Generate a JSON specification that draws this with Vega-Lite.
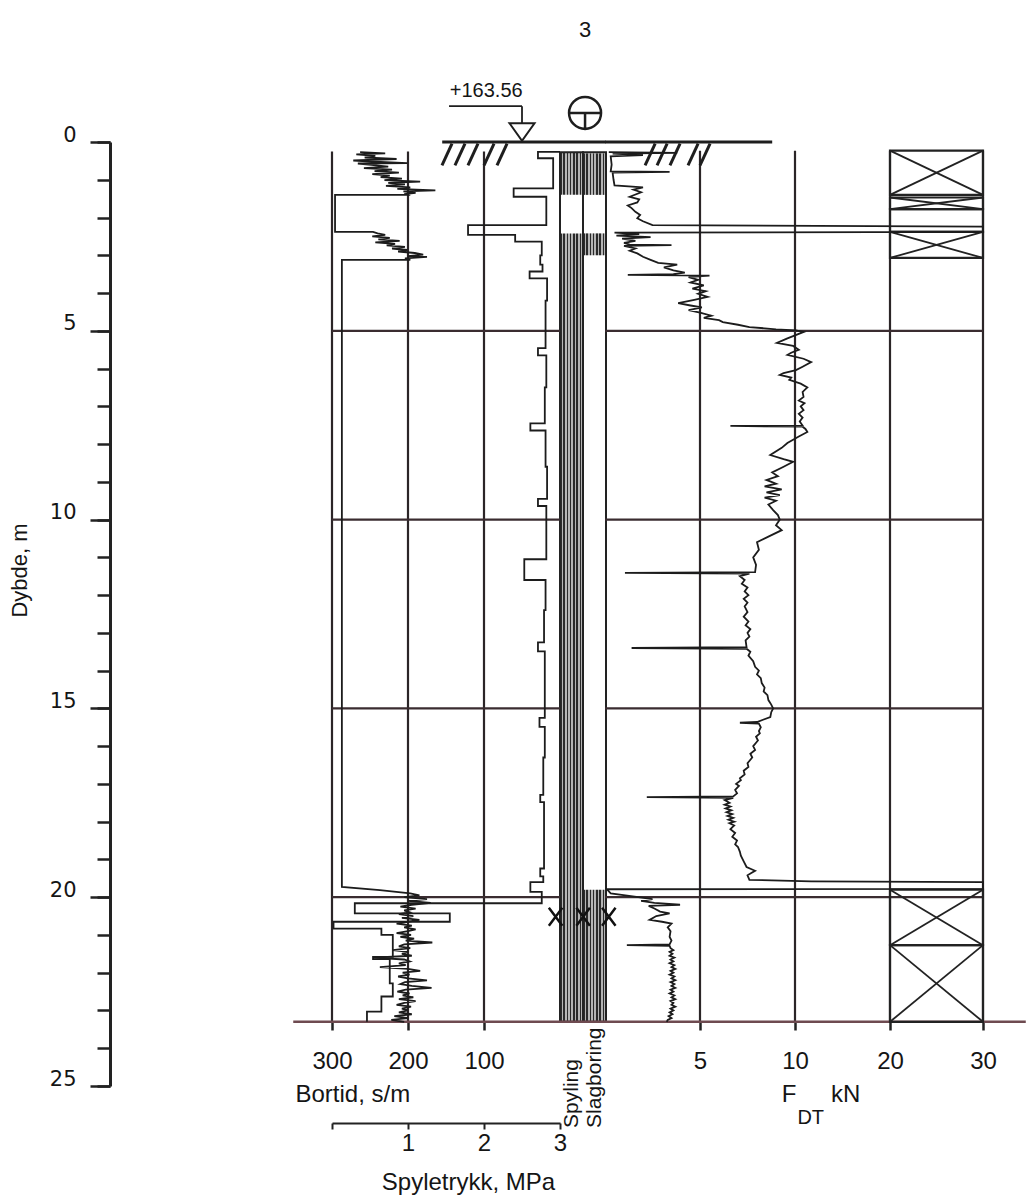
{
"$schema":"https://vega.github.io/schema/vega-lite/v6.json",
"width":1026,"height":1200,"autosize":{"type":"none"},"padding":0,"background":"#ffffff",
"config":{"view":{"stroke":null},"font":"Liberation Sans","axis":{"domainColor":"#222222","tickColor":"#222222","labelColor":"#151515","titleColor":"#151515","labelFont":"Liberation Sans","titleFont":"Liberation Sans","titleFontWeight":"normal","grid":false,"labelFlush":false,"labelOverlap":false}},
"datasets":{
"bortid":[{"d":0.27,"b":263},{"d":0.3,"b":230},{"d":0.33,"b":268},{"d":0.37,"b":243},{"d":0.41,"b":257},{"d":0.45,"b":215},{"d":0.49,"b":272},{"d":0.53,"b":236},{"d":0.56,"b":201},{"d":0.57,"b":266},{"d":0.61,"b":245},{"d":0.65,"b":226},{"d":0.69,"b":258},{"d":0.73,"b":221},{"d":0.77,"b":244},{"d":0.81,"b":212},{"d":0.85,"b":247},{"d":0.89,"b":224},{"d":0.93,"b":236},{"d":0.97,"b":208},{"d":1.01,"b":231},{"d":1.05,"b":184},{"d":1.08,"b":226},{"d":1.12,"b":204},{"d":1.16,"b":229},{"d":1.2,"b":197},{"d":1.24,"b":214},{"d":1.28,"b":164},{"d":1.31,"b":206},{"d":1.35,"b":190},{"d":1.38,"b":205},{"d":1.4,"b":197},{"d":1.4,"b":296},{"d":2.38,"b":296},{"d":2.38,"b":246},{"d":2.42,"b":240},{"d":2.46,"b":230},{"d":2.5,"b":247},{"d":2.54,"b":224},{"d":2.58,"b":239},{"d":2.62,"b":211},{"d":2.66,"b":243},{"d":2.7,"b":217},{"d":2.74,"b":228},{"d":2.78,"b":204},{"d":2.82,"b":221},{"d":2.86,"b":201},{"d":2.9,"b":213},{"d":2.94,"b":191},{"d":2.98,"b":180},{"d":3.02,"b":200},{"d":3.04,"b":175},{"d":3.08,"b":204},{"d":3.12,"b":197},{"d":3.12,"b":287},{"d":19.73,"b":287},{"d":19.81,"b":237},{"d":19.9,"b":197},{"d":19.95,"b":185},{"d":20.0,"b":205},{"d":20.05,"b":175},{"d":20.1,"b":200},{"d":20.15,"b":170},{"d":20.2,"b":195},{"d":20.25,"b":210},{"d":20.3,"b":190},{"d":20.35,"b":205},{"d":20.4,"b":198},{"d":20.45,"b":212},{"d":20.5,"b":193},{"d":20.55,"b":208},{"d":20.6,"b":185},{"d":20.65,"b":200},{"d":20.7,"b":215},{"d":20.75,"b":195},{"d":20.8,"b":205},{"d":20.85,"b":190},{"d":20.9,"b":200},{"d":20.95,"b":215},{"d":21.0,"b":196},{"d":21.05,"b":210},{"d":21.1,"b":192},{"d":21.15,"b":203},{"d":21.2,"b":168},{"d":21.25,"b":205},{"d":21.3,"b":212},{"d":21.35,"b":197},{"d":21.4,"b":220},{"d":21.45,"b":200},{"d":21.5,"b":208},{"d":21.55,"b":195},{"d":21.6,"b":246},{"d":21.65,"b":205},{"d":21.7,"b":198},{"d":21.75,"b":212},{"d":21.8,"b":203},{"d":21.85,"b":237},{"d":21.9,"b":200},{"d":21.95,"b":184},{"d":22.0,"b":207},{"d":22.05,"b":198},{"d":22.1,"b":213},{"d":22.15,"b":200},{"d":22.2,"b":175},{"d":22.25,"b":204},{"d":22.3,"b":210},{"d":22.35,"b":195},{"d":22.4,"b":169},{"d":22.45,"b":203},{"d":22.5,"b":214},{"d":22.55,"b":198},{"d":22.6,"b":207},{"d":22.65,"b":193},{"d":22.7,"b":212},{"d":22.75,"b":190},{"d":22.8,"b":205},{"d":22.85,"b":215},{"d":22.9,"b":196},{"d":22.95,"b":208},{"d":23.0,"b":200},{"d":23.05,"b":212},{"d":23.1,"b":195},{"d":23.15,"b":218},{"d":23.2,"b":200},{"d":23.25,"b":222},{"d":23.3,"b":205}],
"spy":[{"d":0.26,"p":3.0},{"d":0.26,"p":2.71},{"d":0.43,"p":2.71},{"d":0.43,"p":2.91},{"d":1.23,"p":2.91},{"d":1.23,"p":2.39},{"d":1.45,"p":2.39},{"d":1.45,"p":2.82},{"d":2.2,"p":2.82},{"d":2.2,"p":1.79},{"d":2.46,"p":1.79},{"d":2.46,"p":2.41},{"d":2.64,"p":2.41},{"d":2.64,"p":2.76},{"d":3.0,"p":2.76},{"d":3.0,"p":2.74},{"d":3.25,"p":2.74},{"d":3.25,"p":2.77},{"d":3.43,"p":2.77},{"d":3.43,"p":2.6},{"d":3.61,"p":2.6},{"d":3.61,"p":2.83},{"d":4.2,"p":2.83},{"d":4.2,"p":2.81},{"d":5.46,"p":2.81},{"d":5.46,"p":2.71},{"d":5.65,"p":2.71},{"d":5.65,"p":2.82},{"d":6.5,"p":2.82},{"d":6.5,"p":2.8},{"d":7.45,"p":2.8},{"d":7.45,"p":2.61},{"d":7.64,"p":2.61},{"d":7.64,"p":2.81},{"d":8.6,"p":2.81},{"d":8.6,"p":2.83},{"d":9.45,"p":2.83},{"d":9.45,"p":2.71},{"d":9.64,"p":2.71},{"d":9.64,"p":2.82},{"d":11.05,"p":2.82},{"d":11.05,"p":2.53},{"d":11.6,"p":2.53},{"d":11.6,"p":2.81},{"d":12.4,"p":2.81},{"d":12.4,"p":2.79},{"d":13.25,"p":2.79},{"d":13.25,"p":2.71},{"d":13.49,"p":2.71},{"d":13.49,"p":2.8},{"d":15.25,"p":2.8},{"d":15.25,"p":2.73},{"d":15.49,"p":2.73},{"d":15.49,"p":2.8},{"d":16.3,"p":2.8},{"d":16.3,"p":2.78},{"d":17.29,"p":2.78},{"d":17.29,"p":2.74},{"d":17.48,"p":2.74},{"d":17.48,"p":2.79},{"d":19.24,"p":2.79},{"d":19.24,"p":2.74},{"d":19.45,"p":2.74},{"d":19.45,"p":2.78},{"d":19.6,"p":2.78},{"d":19.6,"p":2.61},{"d":19.86,"p":2.61},{"d":19.86,"p":2.76},{"d":20.16,"p":2.76},{"d":20.16,"p":0.3},{"d":20.43,"p":0.3},{"d":20.43,"p":1.55},{"d":20.65,"p":1.55},{"d":20.65,"p":0.02},{"d":20.83,"p":0.02},{"d":20.83,"p":0.65},{"d":21.0,"p":0.65},{"d":21.0,"p":0.8},{"d":21.58,"p":0.8},{"d":21.58,"p":0.54},{"d":21.64,"p":0.54},{"d":21.64,"p":0.76},{"d":22.28,"p":0.76},{"d":22.28,"p":0.8},{"d":22.63,"p":0.8},{"d":22.63,"p":0.65},{"d":23.03,"p":0.65},{"d":23.03,"p":0.46},{"d":23.3,"p":0.46}],
"fdt":[{"d":0.27,"f":0.2},{"d":0.29,"f":3.8},{"d":0.31,"f":0.4},{"d":0.35,"f":2.0},{"d":0.38,"f":0.3},{"d":0.6,"f":0.35},{"d":0.78,"f":0.3},{"d":0.79,"f":3.4},{"d":0.81,"f":0.4},{"d":1.0,"f":0.45},{"d":1.15,"f":0.5},{"d":1.2,"f":2.0},{"d":1.26,"f":1.5},{"d":1.33,"f":1.9},{"d":1.45,"f":1.3},{"d":1.52,"f":1.8},{"d":1.6,"f":1.7},{"d":1.68,"f":1.2},{"d":1.75,"f":1.4},{"d":1.85,"f":1.6},{"d":1.93,"f":1.85},{"d":2.02,"f":1.7},{"d":2.1,"f":2.0},{"d":2.2,"f":2.5},{"d":2.24,"f":30},{"d":2.38,"f":30},{"d":2.4,"f":0.5},{"d":2.44,"f":1.8},{"d":2.48,"f":0.6},{"d":2.52,"f":2.4},{"d":2.56,"f":0.9},{"d":2.62,"f":1.6},{"d":2.67,"f":1.0},{"d":2.72,"f":1.3},{"d":2.73,"f":3.5},{"d":2.75,"f":1.0},{"d":2.82,"f":1.6},{"d":2.88,"f":1.3},{"d":2.95,"f":1.7},{"d":3.04,"f":2.0},{"d":3.12,"f":2.4},{"d":3.2,"f":2.8},{"d":3.25,"f":3.8},{"d":3.32,"f":3.1},{"d":3.4,"f":3.6},{"d":3.46,"f":4.2},{"d":3.5,"f":3.6},{"d":3.52,"f":1.2},{"d":3.54,"f":5.5},{"d":3.58,"f":4.4},{"d":3.65,"f":4.9},{"d":3.72,"f":4.5},{"d":3.8,"f":5.2},{"d":3.88,"f":4.6},{"d":3.95,"f":5.3},{"d":4.02,"f":4.9},{"d":4.1,"f":5.4},{"d":4.18,"f":4.7},{"d":4.27,"f":3.85},{"d":4.33,"f":4.5},{"d":4.38,"f":5.1},{"d":4.45,"f":4.4},{"d":4.52,"f":5.0},{"d":4.6,"f":5.6},{"d":4.66,"f":5.2},{"d":4.72,"f":6.0},{"d":4.77,"f":6.2},{"d":4.84,"f":7.0},{"d":4.9,"f":7.6},{"d":4.96,"f":9.0},{"d":4.99,"f":10.1},{"d":5.03,"f":10.9},{"d":5.1,"f":10.2},{"d":5.2,"f":9.6},{"d":5.32,"f":9.05},{"d":5.4,"f":9.9},{"d":5.5,"f":10.4},{"d":5.58,"f":9.8},{"d":5.64,"f":9.6},{"d":5.74,"f":10.9},{"d":5.83,"f":11.7},{"d":5.95,"f":10.8},{"d":6.04,"f":10.1},{"d":6.12,"f":9.4},{"d":6.17,"f":9.2},{"d":6.24,"f":9.8},{"d":6.3,"f":9.7},{"d":6.4,"f":10.6},{"d":6.5,"f":11.3},{"d":6.62,"f":10.8},{"d":6.75,"f":10.9},{"d":6.85,"f":10.4},{"d":6.92,"f":11.0},{"d":7.0,"f":10.6},{"d":7.1,"f":10.9},{"d":7.2,"f":10.4},{"d":7.3,"f":10.8},{"d":7.4,"f":10.5},{"d":7.51,"f":10.8},{"d":7.52,"f":6.6},{"d":7.54,"f":10.8},{"d":7.6,"f":11.1},{"d":7.68,"f":11.3},{"d":7.8,"f":10.4},{"d":7.97,"f":9.6},{"d":8.1,"f":9.3},{"d":8.29,"f":8.7},{"d":8.4,"f":9.4},{"d":8.47,"f":9.9},{"d":8.6,"f":9.4},{"d":8.75,"f":8.8},{"d":8.85,"f":9.1},{"d":8.95,"f":8.5},{"d":9.05,"f":9.0},{"d":9.12,"f":8.4},{"d":9.2,"f":9.3},{"d":9.28,"f":8.5},{"d":9.35,"f":9.2},{"d":9.42,"f":8.4},{"d":9.5,"f":9.0},{"d":9.6,"f":8.6},{"d":9.75,"f":8.85},{"d":9.88,"f":9.1},{"d":10.0,"f":9.2},{"d":10.15,"f":9.0},{"d":10.28,"f":9.3},{"d":10.45,"f":8.6},{"d":10.6,"f":8.0},{"d":10.8,"f":8.1},{"d":11.0,"f":7.8},{"d":11.2,"f":7.95},{"d":11.39,"f":7.9},{"d":11.41,"f":1.05},{"d":11.43,"f":7.6},{"d":11.5,"f":7.1},{"d":11.6,"f":7.35},{"d":11.7,"f":7.2},{"d":11.8,"f":7.5},{"d":11.9,"f":7.35},{"d":12.0,"f":7.55},{"d":12.1,"f":7.3},{"d":12.2,"f":7.5},{"d":12.3,"f":7.35},{"d":12.45,"f":7.5},{"d":12.57,"f":7.3},{"d":12.7,"f":7.55},{"d":12.8,"f":7.4},{"d":12.9,"f":7.65},{"d":13.0,"f":7.5},{"d":13.1,"f":7.6},{"d":13.2,"f":7.4},{"d":13.38,"f":7.45},{"d":13.4,"f":1.4},{"d":13.42,"f":7.45},{"d":13.5,"f":7.65},{"d":13.6,"f":7.55},{"d":13.75,"f":7.8},{"d":13.9,"f":7.9},{"d":14.0,"f":8.1},{"d":14.1,"f":8.0},{"d":14.2,"f":8.2},{"d":14.33,"f":8.25},{"d":14.45,"f":8.4},{"d":14.55,"f":8.35},{"d":14.65,"f":8.55},{"d":14.78,"f":8.6},{"d":14.9,"f":8.75},{"d":15.0,"f":8.85},{"d":15.1,"f":8.75},{"d":15.23,"f":8.7},{"d":15.36,"f":8.0},{"d":15.38,"f":7.1},{"d":15.4,"f":8.1},{"d":15.5,"f":8.2},{"d":15.6,"f":8.1},{"d":15.66,"f":8.15},{"d":15.75,"f":7.95},{"d":15.85,"f":8.05},{"d":16.0,"f":7.8},{"d":16.1,"f":7.9},{"d":16.2,"f":7.65},{"d":16.3,"f":7.75},{"d":16.45,"f":7.5},{"d":16.55,"f":7.55},{"d":16.65,"f":7.3},{"d":16.75,"f":7.35},{"d":16.85,"f":7.1},{"d":16.9,"f":7.15},{"d":17.0,"f":6.9},{"d":17.05,"f":7.05},{"d":17.16,"f":6.85},{"d":17.25,"f":6.95},{"d":17.33,"f":6.75},{"d":17.35,"f":2.2},{"d":17.37,"f":6.75},{"d":17.43,"f":6.3},{"d":17.5,"f":6.55},{"d":17.55,"f":6.3},{"d":17.6,"f":6.6},{"d":17.65,"f":6.35},{"d":17.7,"f":6.65},{"d":17.75,"f":6.4},{"d":17.8,"f":6.7},{"d":17.85,"f":6.45},{"d":17.9,"f":6.75},{"d":17.95,"f":6.5},{"d":18.0,"f":6.8},{"d":18.04,"f":6.55},{"d":18.1,"f":6.8},{"d":18.2,"f":6.6},{"d":18.3,"f":6.85},{"d":18.4,"f":6.7},{"d":18.5,"f":6.95},{"d":18.6,"f":6.85},{"d":18.67,"f":7.0},{"d":18.8,"f":7.1},{"d":18.9,"f":7.15},{"d":19.05,"f":7.3},{"d":19.2,"f":7.45},{"d":19.3,"f":7.9},{"d":19.36,"f":7.7},{"d":19.42,"f":7.5},{"d":19.54,"f":7.6},{"d":19.58,"f":11.7},{"d":19.6,"f":30},{"d":19.78,"f":30},{"d":19.79,"f":0.1},{"d":19.9,"f":0.3},{"d":20.0,"f":1.75},{"d":20.05,"f":2.5},{"d":20.1,"f":1.9},{"d":20.15,"f":2.6},{"d":20.2,"f":3.95},{"d":20.23,"f":2.3},{"d":20.3,"f":2.6},{"d":20.38,"f":2.9},{"d":20.43,"f":3.4},{"d":20.5,"f":2.7},{"d":20.6,"f":2.35},{"d":20.65,"f":3.0},{"d":20.7,"f":3.5},{"d":20.8,"f":3.3},{"d":20.9,"f":3.45},{"d":21.05,"f":3.4},{"d":21.15,"f":3.5},{"d":21.25,"f":3.4},{"d":21.27,"f":1.15},{"d":21.29,"f":3.4},{"d":21.35,"f":3.45},{"d":21.4,"f":3.6},{"d":21.45,"f":3.4},{"d":21.5,"f":3.55},{"d":21.55,"f":3.4},{"d":21.6,"f":3.65},{"d":21.65,"f":3.45},{"d":21.7,"f":3.6},{"d":21.75,"f":3.4},{"d":21.8,"f":3.65},{"d":21.85,"f":3.5},{"d":21.9,"f":3.7},{"d":21.95,"f":3.45},{"d":22.0,"f":3.6},{"d":22.05,"f":3.4},{"d":22.1,"f":3.65},{"d":22.15,"f":3.5},{"d":22.2,"f":3.7},{"d":22.25,"f":3.45},{"d":22.3,"f":3.65},{"d":22.35,"f":3.5},{"d":22.4,"f":3.7},{"d":22.45,"f":3.45},{"d":22.5,"f":3.6},{"d":22.55,"f":3.4},{"d":22.6,"f":3.65},{"d":22.65,"f":3.5},{"d":22.7,"f":3.7},{"d":22.75,"f":3.45},{"d":22.8,"f":3.6},{"d":22.85,"f":3.5},{"d":22.9,"f":3.7},{"d":22.95,"f":3.45},{"d":23.0,"f":3.6},{"d":23.05,"f":3.4},{"d":23.1,"f":3.55},{"d":23.15,"f":3.35},{"d":23.2,"f":3.5},{"d":23.25,"f":3.3},{"d":23.3,"f":3.25}],
"cols":[{"col":"Spyling","d":0.27,"d2":23.3},{"col":"Slagboring","d":0.27,"d2":23.3}],
"hatch":[{"col":"Spyling","d":0.27,"d2":1.4},{"col":"Spyling","d":2.42,"d2":23.3},{"col":"Slagboring","d":0.3,"d2":1.4},{"col":"Slagboring","d":2.42,"d2":3.0},{"col":"Slagboring","d":19.8,"d2":23.3}],
"boxes":[{"d":0.23,"d2":1.4,"cross":true},{"d":1.47,"d2":1.78,"cross":true},{"d":1.78,"d2":2.38,"cross":false},{"d":2.38,"d2":3.07,"cross":true},{"d":19.8,"d2":21.27,"cross":true},{"d":21.27,"d2":23.3,"cross":true}],
"gridB":[{"b":300},{"b":200},{"b":100}],
"gridF":[{"f":5},{"f":10},{"f":20},{"f":30}],
"gridH":[{"d":5},{"d":10},{"d":15},{"d":20}],
"slashB":[{"b":155.3,"b2":142.1},{"b":138.2,"b2":125.0},{"b":121.1,"b2":107.9},{"b":100.0,"b2":86.8},{"b":82.9,"b2":69.7}],
"slashF":[{"f":2.11,"f2":2.64},{"f":2.74,"f2":3.27},{"f":3.42,"f2":3.95},{"f":4.37,"f2":4.9},{"f":5.0,"f2":5.53}],
"xmarks":[{"f":-2.6},{"f":-1.15},{"f":0.2}],
"one":[{}]
},
"layer":[
{"data":{"name":"hatch"},"mark":{"type":"rect","fill":{"gradient":"linear","x1":0,"y1":0,"x2":1,"y2":0,"stops":[{"offset":0,"color":"#2a2a2a"},{"offset":0.07,"color":"#2a2a2a"},{"offset":0.07,"color":"#b4b4b4"},{"offset":0.143,"color":"#b4b4b4"},{"offset":0.143,"color":"#2a2a2a"},{"offset":0.213,"color":"#2a2a2a"},{"offset":0.213,"color":"#b4b4b4"},{"offset":0.286,"color":"#b4b4b4"},{"offset":0.286,"color":"#2a2a2a"},{"offset":0.356,"color":"#2a2a2a"},{"offset":0.356,"color":"#b4b4b4"},{"offset":0.429,"color":"#b4b4b4"},{"offset":0.429,"color":"#2a2a2a"},{"offset":0.499,"color":"#2a2a2a"},{"offset":0.499,"color":"#b4b4b4"},{"offset":0.571,"color":"#b4b4b4"},{"offset":0.571,"color":"#2a2a2a"},{"offset":0.641,"color":"#2a2a2a"},{"offset":0.641,"color":"#b4b4b4"},{"offset":0.714,"color":"#b4b4b4"},{"offset":0.714,"color":"#2a2a2a"},{"offset":0.784,"color":"#2a2a2a"},{"offset":0.784,"color":"#b4b4b4"},{"offset":0.857,"color":"#b4b4b4"},{"offset":0.857,"color":"#2a2a2a"},{"offset":0.927,"color":"#2a2a2a"},{"offset":0.927,"color":"#b4b4b4"},{"offset":1,"color":"#b4b4b4"}]}},
 "encoding":{"x":{"field":"col","type":"nominal","scale":{"type":"band","domain":["Spyling","Slagboring"],"range":[560,606],"paddingInner":0,"paddingOuter":0},"axis":null},"y":{"field":"d","type":"quantitative","scale":{"domain":[0,25],"range":[142,1086],"nice":false,"zero":false},"axis":null},"y2":{"field":"d2"}}},
{"data":{"name":"cols"},"mark":{"type":"rect","filled":false,"stroke":"#222222","strokeWidth":2},
 "encoding":{"x":{"field":"col","type":"nominal","scale":{"type":"band","domain":["Spyling","Slagboring"],"range":[560,606],"paddingInner":0,"paddingOuter":0},"axis":null},"y":{"field":"d","type":"quantitative","scale":{"domain":[0,25],"range":[142,1086],"nice":false,"zero":false},"axis":null},"y2":{"field":"d2"}}},
{"data":{"name":"gridB"},"mark":{"type":"rule","stroke":"#2b2527","strokeWidth":2.2},
 "encoding":{"x":{"field":"b","type":"quantitative","scale":{"domain":[300,0],"range":[332,560],"nice":false,"zero":false},"axis":null},"y":{"datum":0.25,"type":"quantitative","scale":{"domain":[0,25],"range":[142,1086],"nice":false,"zero":false},"axis":null},"y2":{"datum":23.3}}},
{"data":{"name":"gridF"},"mark":{"type":"rule","stroke":"#2b2527","strokeWidth":2.2},
 "encoding":{"x":{"field":"f","type":"quantitative","scale":{"domain":[0,10,20,30],"range":[605,795,890,983],"nice":false,"zero":false},"axis":null},"y":{"datum":0.23,"type":"quantitative","scale":{"domain":[0,25],"range":[142,1086],"nice":false,"zero":false},"axis":null},"y2":{"datum":23.3}}},
{"data":{"name":"gridH"},"mark":{"type":"rule","stroke":"#3a2c30","strokeWidth":2.2},
 "encoding":{"x":{"datum":300,"type":"quantitative","scale":{"domain":[300,0],"range":[332,560],"nice":false,"zero":false},"axis":null},"x2":{"datum":0},"y":{"field":"d","type":"quantitative","scale":{"domain":[0,25],"range":[142,1086],"nice":false,"zero":false},"axis":{"orient":"left","offset":-110,"values":[0,1,2,3,4,5,6,7,8,9,10,11,12,13,14,15,16,17,18,19,20,21,22,23,24,25],"labels":false,"domain":false,"tickSize":13,"tickWidth":2.5,"title":null}}}},
{"data":{"name":"gridH"},"mark":{"type":"rule","stroke":"#3a2c30","strokeWidth":2.2},
 "encoding":{"x":{"datum":0,"type":"quantitative","scale":{"domain":[0,10,20,30],"range":[605,795,890,983],"nice":false,"zero":false},"axis":null},"x2":{"datum":30},"y":{"field":"d","type":"quantitative","scale":{"domain":[0,25],"range":[142,1086],"nice":false,"zero":false},"axis":null}}},
{"data":{"name":"one"},"mark":{"type":"rule","stroke":"#6e4a50","strokeWidth":2.5},
 "encoding":{"x":{"datum":351,"type":"quantitative","scale":{"domain":[300,0],"range":[332,560],"nice":false,"zero":false},"axis":null},"x2":{"datum":-60},"y":{"datum":23.3,"type":"quantitative","scale":{"domain":[0,25],"range":[142,1086],"nice":false,"zero":false},"axis":null}}},
{"data":{"name":"one"},"mark":{"type":"rule","stroke":"#6e4a50","strokeWidth":2.5},
 "encoding":{"x":{"datum":0,"type":"quantitative","scale":{"domain":[0,10,20,30],"range":[605,795,890,983],"nice":false,"zero":false},"axis":null},"x2":{"datum":34.6},"y":{"datum":23.3,"type":"quantitative","scale":{"domain":[0,25],"range":[142,1086],"nice":false,"zero":false},"axis":null}}},
{"data":{"name":"one"},"mark":{"type":"rule","stroke":"#1e1e1e","strokeWidth":3},
 "encoding":{"x":{"datum":155,"type":"quantitative","scale":{"domain":[300,0],"range":[332,560],"nice":false,"zero":false},"axis":null},"x2":{"datum":-60},"y":{"datum":0,"type":"quantitative","scale":{"domain":[0,25],"range":[142,1086],"nice":false,"zero":false},"axis":null}}},
{"data":{"name":"one"},"mark":{"type":"rule","stroke":"#1e1e1e","strokeWidth":3},
 "encoding":{"x":{"datum":0,"type":"quantitative","scale":{"domain":[0,10,20,30],"range":[605,795,890,983],"nice":false,"zero":false},"axis":null},"x2":{"datum":8.8},"y":{"datum":0,"type":"quantitative","scale":{"domain":[0,25],"range":[142,1086],"nice":false,"zero":false},"axis":null}}},
{"data":{"name":"slashB"},"mark":{"type":"rule","stroke":"#1e1e1e","strokeWidth":3},
 "encoding":{"x":{"field":"b","type":"quantitative","scale":{"domain":[300,0],"range":[332,560],"nice":false,"zero":false},"axis":null},"x2":{"field":"b2"},"y":{"datum":0.62,"type":"quantitative","scale":{"domain":[0,25],"range":[142,1086],"nice":false,"zero":false},"axis":null},"y2":{"datum":0.04}}},
{"data":{"name":"slashF"},"mark":{"type":"rule","stroke":"#1e1e1e","strokeWidth":3},
 "encoding":{"x":{"field":"f","type":"quantitative","scale":{"domain":[0,10,20,30],"range":[605,795,890,983],"nice":false,"zero":false},"axis":null},"x2":{"field":"f2"},"y":{"datum":0.62,"type":"quantitative","scale":{"domain":[0,25],"range":[142,1086],"nice":false,"zero":false},"axis":null},"y2":{"datum":0.04}}},
{"data":{"name":"boxes"},"mark":{"type":"rect","filled":false,"stroke":"#222222","strokeWidth":2.2},
 "encoding":{"x":{"datum":20,"type":"quantitative","scale":{"domain":[0,10,20,30],"range":[605,795,890,983],"nice":false,"zero":false},"axis":null},"x2":{"datum":30},"y":{"field":"d","type":"quantitative","scale":{"domain":[0,25],"range":[142,1086],"nice":false,"zero":false},"axis":null},"y2":{"field":"d2"}}},
{"data":{"name":"boxes"},"transform":[{"filter":"datum.cross"}],"mark":{"type":"rule","stroke":"#222222","strokeWidth":1.8},
 "encoding":{"x":{"datum":20,"type":"quantitative","scale":{"domain":[0,10,20,30],"range":[605,795,890,983],"nice":false,"zero":false},"axis":null},"x2":{"datum":30},"y":{"field":"d","type":"quantitative","scale":{"domain":[0,25],"range":[142,1086],"nice":false,"zero":false},"axis":null},"y2":{"field":"d2"}}},
{"data":{"name":"boxes"},"transform":[{"filter":"datum.cross"}],"mark":{"type":"rule","stroke":"#222222","strokeWidth":1.8},
 "encoding":{"x":{"datum":30,"type":"quantitative","scale":{"domain":[0,10,20,30],"range":[605,795,890,983],"nice":false,"zero":false},"axis":null},"x2":{"datum":20},"y":{"field":"d","type":"quantitative","scale":{"domain":[0,25],"range":[142,1086],"nice":false,"zero":false},"axis":null},"y2":{"field":"d2"}}},
{"data":{"name":"bortid"},"mark":{"type":"line","stroke":"#1c1c1c","strokeWidth":1.8},
 "encoding":{"x":{"field":"b","type":"quantitative","scale":{"domain":[300,0],"range":[332,560],"nice":false,"zero":false},"axis":{"orient":"bottom","offset":-178,"values":[300,200,100],"domain":false,"tickSize":8,"tickWidth":2.5,"labelFontSize":24,"labelPadding":19,"title":"Bortid, s/m","titleFontSize":24,"titleAlign":"left","titleX":295,"titleY":72,"titleBaseline":"middle"}},
  "y":{"field":"d","type":"quantitative","scale":{"domain":[0,25],"range":[142,1086],"nice":false,"zero":false},"axis":{"orient":"left","offset":-110,"values":[0,5,10,15,20,25],"tickSize":20,"tickWidth":2.5,"domainWidth":3,"labelFont":"DejaVu Sans","labelFontSize":21,"labelPadding":14,"labelOffset":-7,"title":"Dybde, m","titleFontSize":22,"titleX":-91,"titleY":570,"titleAngle":-90,"titleAlign":"center","titleBaseline":"middle"}},
  "order":{"value":null}}},
{"data":{"name":"spy"},"mark":{"type":"line","stroke":"#1c1c1c","strokeWidth":1.8},
 "encoding":{"x":{"field":"p","type":"quantitative","scale":{"domain":[0,3],"range":[332,560],"nice":false,"zero":false},"axis":{"orient":"bottom","offset":-77,"values":[0,1,2,3],"labelExpr":"datum.value == 0 ? '' : datum.label","domain":true,"domainWidth":2,"tickSize":6,"tickWidth":2,"labelFontSize":24,"labelPadding":2,"title":"Spyletrykk, MPa","titleFontSize":24,"titleAlign":"center","titleX":468,"titleY":59,"titleBaseline":"middle"}},
  "y":{"field":"d","type":"quantitative","scale":{"domain":[0,25],"range":[142,1086],"nice":false,"zero":false},"axis":null},
  "order":{"value":null}}},
{"data":{"name":"fdt"},"mark":{"type":"line","stroke":"#1c1c1c","strokeWidth":1.8},
 "encoding":{"x":{"field":"f","type":"quantitative","scale":{"domain":[0,10,20,30],"range":[605,795,890,983],"nice":false,"zero":false},"axis":{"orient":"bottom","offset":-178,"values":[5,10,20,30],"domain":false,"tickSize":8,"tickWidth":2.5,"labelFontSize":24,"labelPadding":19,"title":null}},
  "y":{"field":"d","type":"quantitative","scale":{"domain":[0,25],"range":[142,1086],"nice":false,"zero":false},"axis":null},
  "order":{"value":null}}},
{"data":{"name":"xmarks"},"mark":{"type":"point","shape":"M-0.75,-1L0.75,1M-0.75,1L0.75,-1","size":324,"filled":false,"stroke":"#111111","strokeWidth":2.5,"opacity":1},
 "encoding":{"x":{"field":"f","type":"quantitative","scale":{"domain":[0,10,20,30],"range":[605,795,890,983],"nice":false,"zero":false},"axis":null},"y":{"datum":20.52,"type":"quantitative","scale":{"domain":[0,25],"range":[142,1086],"nice":false,"zero":false},"axis":null}}},
{"data":{"name":"one"},"mark":{"type":"text","text":"+163.56","fontSize":20,"align":"left","baseline":"middle","color":"#151515"},
 "encoding":{"x":{"datum":145,"type":"quantitative","scale":{"domain":[300,0],"range":[332,560],"nice":false,"zero":false},"axis":null},"y":{"datum":-1.35,"type":"quantitative","scale":{"domain":[0,25],"range":[142,1086],"nice":false,"zero":false},"axis":null}}},
{"data":{"name":"one"},"mark":{"type":"rule","stroke":"#1e1e1e","strokeWidth":1.8},
 "encoding":{"x":{"datum":146,"type":"quantitative","scale":{"domain":[300,0],"range":[332,560],"nice":false,"zero":false},"axis":null},"x2":{"datum":50},"y":{"datum":-0.95,"type":"quantitative","scale":{"domain":[0,25],"range":[142,1086],"nice":false,"zero":false},"axis":null}}},
{"data":{"name":"one"},"mark":{"type":"rule","stroke":"#1e1e1e","strokeWidth":1.8},
 "encoding":{"x":{"datum":50,"type":"quantitative","scale":{"domain":[300,0],"range":[332,560],"nice":false,"zero":false},"axis":null},"y":{"datum":-0.95,"type":"quantitative","scale":{"domain":[0,25],"range":[142,1086],"nice":false,"zero":false},"axis":null},"y2":{"datum":-0.48}}},
{"data":{"name":"one"},"mark":{"type":"point","shape":"M-1,-0.7L1,-0.7L0,0.7Z","size":625,"filled":false,"stroke":"#1e1e1e","strokeWidth":2,"opacity":1},
 "encoding":{"x":{"datum":50,"type":"quantitative","scale":{"domain":[300,0],"range":[332,560],"nice":false,"zero":false},"axis":null},"y":{"datum":-0.265,"type":"quantitative","scale":{"domain":[0,25],"range":[142,1086],"nice":false,"zero":false},"axis":null}}},
{"data":{"name":"one"},"mark":{"type":"point","shape":"M-1,0A1,1 0 1,1 1,0A1,1 0 1,1 -1,0M-1,0L1,0M0,0L0,1","size":1024,"filled":false,"stroke":"#1e1e1e","strokeWidth":2.5,"opacity":1},
 "encoding":{"x":{"datum":-1.05,"type":"quantitative","scale":{"domain":[0,10,20,30],"range":[605,795,890,983],"nice":false,"zero":false},"axis":null},"y":{"datum":-0.77,"type":"quantitative","scale":{"domain":[0,25],"range":[142,1086],"nice":false,"zero":false},"axis":null}}},
{"data":{"name":"one"},"mark":{"type":"text","text":"3","fontSize":22,"align":"center","baseline":"middle","color":"#151515"},
 "encoding":{"x":{"datum":-1.05,"type":"quantitative","scale":{"domain":[0,10,20,30],"range":[605,795,890,983],"nice":false,"zero":false},"axis":null},"y":{"datum":-2.97,"type":"quantitative","scale":{"domain":[0,25],"range":[142,1086],"nice":false,"zero":false},"axis":null}}},
{"data":{"name":"one"},"mark":{"type":"text","text":"Spyling","fontSize":21,"angle":-90,"align":"left","baseline":"middle","color":"#151515"},
 "encoding":{"x":{"datum":"Spyling","type":"nominal","scale":{"type":"band","domain":["Spyling","Slagboring"],"range":[560,606],"paddingInner":0,"paddingOuter":0},"axis":null},"y":{"datum":26.11,"type":"quantitative","scale":{"domain":[0,25],"range":[142,1086],"nice":false,"zero":false},"axis":null}}},
{"data":{"name":"one"},"mark":{"type":"text","text":"Slagboring","fontSize":21,"angle":-90,"align":"left","baseline":"middle","color":"#151515"},
 "encoding":{"x":{"datum":"Slagboring","type":"nominal","scale":{"type":"band","domain":["Spyling","Slagboring"],"range":[560,606],"paddingInner":0,"paddingOuter":0},"axis":null},"y":{"datum":26.11,"type":"quantitative","scale":{"domain":[0,25],"range":[142,1086],"nice":false,"zero":false},"axis":null}}},
{"data":{"name":"one"},"mark":{"type":"text","text":"F","fontSize":24,"align":"left","baseline":"middle","color":"#151515"},
 "encoding":{"x":{"datum":9.3,"type":"quantitative","scale":{"domain":[0,10,20,30],"range":[605,795,890,983],"nice":false,"zero":false},"axis":null},"y":{"datum":25.25,"type":"quantitative","scale":{"domain":[0,25],"range":[142,1086],"nice":false,"zero":false},"axis":null}}},
{"data":{"name":"one"},"mark":{"type":"text","text":"DT","fontSize":20,"align":"left","baseline":"middle","color":"#151515"},
 "encoding":{"x":{"datum":10.25,"type":"quantitative","scale":{"domain":[0,10,20,30],"range":[605,795,890,983],"nice":false,"zero":false},"axis":null},"y":{"datum":25.85,"type":"quantitative","scale":{"domain":[0,25],"range":[142,1086],"nice":false,"zero":false},"axis":null}}},
{"data":{"name":"one"},"mark":{"type":"text","text":"kN","fontSize":24,"align":"left","baseline":"middle","color":"#151515"},
 "encoding":{"x":{"datum":13.8,"type":"quantitative","scale":{"domain":[0,10,20,30],"range":[605,795,890,983],"nice":false,"zero":false},"axis":null},"y":{"datum":25.25,"type":"quantitative","scale":{"domain":[0,25],"range":[142,1086],"nice":false,"zero":false},"axis":null}}}
],
"resolve":{"scale":{"x":"independent","y":"independent"},"axis":{"x":"independent","y":"independent"}}
}
